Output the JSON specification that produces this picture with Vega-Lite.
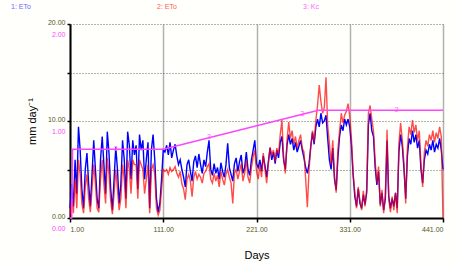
{
"$schema": "https://vega.github.io/schema/vega-lite/v6.json",
"width": 373, "height": 194,
"autosize": {"type": "none"},
"padding": {"left": 70, "top": 24, "right": 14, "bottom": 45},
"background": "#fffffb",
"config": {"font": "Liberation Sans", "view": {"stroke": null}},
"datasets": {
"eto": [
{"d":1,"b":1.0,"r":0.3},{"d":3,"b":3.5,"r":2.0},{"d":5,"b":1.2,"r":0.5},{"d":7,"b":6.0,"r":4.0},{"d":9,"b":2.5,"r":1.0},{"d":11,"b":9.4,"r":6.0},{"d":13,"b":7.0,"r":4.5},{"d":15,"b":3.0,"r":1.5},{"d":17,"b":1.0,"r":0.5},{"d":19,"b":5.0,"r":3.2},{"d":21,"b":6.7,"r":4.5},{"d":23,"b":3.5,"r":2.0},{"d":25,"b":1.2,"r":0.6},{"d":27,"b":4.5,"r":3.0},{"d":29,"b":8.0,"r":5.5},{"d":31,"b":5.0,"r":3.5},{"d":33,"b":2.0,"r":1.0},{"d":35,"b":1.0,"r":0.6},{"d":37,"b":6.0,"r":4.0},{"d":39,"b":8.4,"r":6.0},{"d":41,"b":5.5,"r":3.5},{"d":43,"b":2.5,"r":1.5},{"d":45,"b":8.9,"r":6.2},{"d":47,"b":6.7,"r":4.5},{"d":49,"b":3.0,"r":1.8},{"d":51,"b":0.8,"r":0.4},{"d":53,"b":4.0,"r":2.5},{"d":55,"b":7.3,"r":5.0},{"d":57,"b":5.0,"r":3.0},{"d":59,"b":1.5,"r":0.8},{"d":61,"b":3.5,"r":2.0},{"d":63,"b":8.0,"r":5.5},{"d":65,"b":6.0,"r":4.0},{"d":67,"b":2.0,"r":1.0},{"d":69,"b":8.9,"r":6.0},{"d":71,"b":7.5,"r":5.0},{"d":73,"b":4.0,"r":2.5},{"d":75,"b":8.0,"r":6.0},{"d":77,"b":6.5,"r":5.5},{"d":79,"b":7.5,"r":5.5},{"d":81,"b":3.0,"r":2.0},{"d":83,"b":8.6,"r":6.0},{"d":85,"b":7.0,"r":5.5},{"d":87,"b":8.0,"r":5.0},{"d":89,"b":4.0,"r":2.5},{"d":91,"b":6.0,"r":4.0},{"d":93,"b":7.8,"r":5.5},{"d":95,"b":1.0,"r":0.5},{"d":97,"b":7.0,"r":5.0},{"d":99,"b":8.6,"r":5.5},{"d":101,"b":6.0,"r":4.5},{"d":103,"b":2.0,"r":1.0},{"d":105,"b":0.6,"r":0.3},{"d":107,"b":1.5,"r":0.8},{"d":109,"b":4.0,"r":3.0},{"d":111,"b":7.0,"r":5.0},
{"d":113,"b":6.8,"r":4.8},{"d":115,"b":7.5,"r":5.0},{"d":117,"b":6.5,"r":4.5},{"d":119,"b":7.8,"r":5.2},{"d":121,"b":6.2,"r":4.8},{"d":123,"b":7.0,"r":5.0},{"d":125,"b":7.6,"r":5.3},{"d":127,"b":6.4,"r":4.6},{"d":129,"b":5.5,"r":4.2},{"d":131,"b":6.0,"r":4.8},{"d":133,"b":5.0,"r":3.5},{"d":135,"b":4.2,"r":3.0},{"d":137,"b":3.2,"r":1.9},{"d":139,"b":5.5,"r":4.0},{"d":141,"b":6.0,"r":4.5},{"d":143,"b":4.8,"r":3.8},{"d":145,"b":3.8,"r":2.2},{"d":147,"b":5.8,"r":4.2},{"d":149,"b":6.4,"r":4.8},{"d":151,"b":5.2,"r":4.0},{"d":153,"b":6.6,"r":4.5},{"d":155,"b":5.5,"r":4.2},{"d":157,"b":4.6,"r":3.6},{"d":159,"b":6.0,"r":4.6},{"d":161,"b":5.3,"r":4.8},{"d":163,"b":6.8,"r":5.3},{"d":165,"b":8.0,"r":5.6},{"d":167,"b":5.0,"r":4.0},{"d":169,"b":4.4,"r":3.6},{"d":171,"b":5.6,"r":4.6},{"d":173,"b":4.6,"r":3.8},{"d":175,"b":5.2,"r":4.4},{"d":177,"b":4.0,"r":3.2},{"d":179,"b":5.7,"r":4.8},{"d":181,"b":4.8,"r":4.0},{"d":183,"b":4.2,"r":3.4},{"d":185,"b":5.5,"r":4.5},{"d":187,"b":7.7,"r":5.0},{"d":189,"b":5.2,"r":4.2},{"d":191,"b":4.5,"r":3.6},{"d":193,"b":3.8,"r":1.5},{"d":195,"b":5.6,"r":4.6},{"d":197,"b":6.2,"r":5.0},{"d":199,"b":4.8,"r":4.0},{"d":201,"b":5.8,"r":4.8},{"d":203,"b":6.5,"r":5.6},{"d":205,"b":4.6,"r":3.8},{"d":207,"b":5.2,"r":4.6},{"d":209,"b":6.8,"r":6.0},{"d":211,"b":5.0,"r":4.2},{"d":213,"b":4.4,"r":3.6},{"d":215,"b":6.0,"r":5.2},{"d":217,"b":7.0,"r":6.3},{"d":219,"b":8.0,"r":7.0},{"d":221,"b":5.6,"r":4.8},
{"d":223,"b":5.2,"r":4.0},{"d":225,"b":6.0,"r":5.5},{"d":227,"b":4.8,"r":4.2},{"d":229,"b":6.4,"r":6.7},{"d":231,"b":5.4,"r":5.0},{"d":233,"b":4.2,"r":3.6},{"d":235,"b":5.8,"r":5.6},{"d":237,"b":7.2,"r":7.3},{"d":239,"b":6.0,"r":6.5},{"d":241,"b":6.8,"r":7.0},{"d":243,"b":5.6,"r":5.8},{"d":245,"b":7.0,"r":7.2},{"d":247,"b":6.2,"r":6.6},{"d":249,"b":7.8,"r":8.6},{"d":251,"b":8.4,"r":10.1},{"d":253,"b":6.0,"r":6.2},{"d":255,"b":5.0,"r":4.6},{"d":257,"b":7.5,"r":8.0},{"d":259,"b":8.6,"r":9.9},{"d":261,"b":7.6,"r":8.2},{"d":263,"b":8.2,"r":9.0},{"d":265,"b":7.0,"r":7.6},{"d":267,"b":7.8,"r":8.4},{"d":269,"b":6.8,"r":7.2},{"d":271,"b":7.4,"r":8.0},{"d":273,"b":8.0,"r":8.6},{"d":275,"b":7.0,"r":7.2},{"d":277,"b":6.2,"r":6.8},{"d":279,"b":5.2,"r":4.0},{"d":281,"b":4.6,"r":1.1},{"d":283,"b":5.6,"r":5.0},{"d":285,"b":7.4,"r":7.3},{"d":287,"b":8.8,"r":9.0},{"d":289,"b":7.6,"r":7.8},{"d":291,"b":9.4,"r":10.1},{"d":293,"b":10.2,"r":11.6},{"d":295,"b":9.4,"r":13.7},{"d":297,"b":10.8,"r":12.0},{"d":299,"b":9.8,"r":10.8},{"d":301,"b":10.0,"r":11.4},{"d":303,"b":10.6,"r":14.5},{"d":305,"b":8.2,"r":9.5},{"d":307,"b":6.0,"r":7.7},{"d":309,"b":5.0,"r":5.5},{"d":311,"b":7.2,"r":8.0},{"d":313,"b":4.0,"r":4.4},{"d":315,"b":2.9,"r":2.6},{"d":317,"b":6.2,"r":7.0},{"d":319,"b":8.4,"r":9.0},{"d":321,"b":9.6,"r":10.8},{"d":323,"b":9.0,"r":9.8},{"d":325,"b":10.2,"r":10.6},{"d":327,"b":9.6,"r":11.0},{"d":329,"b":10.2,"r":11.8},{"d":331,"b":9.4,"r":10.5},
{"d":333,"b":7.5,"r":8.2},{"d":335,"b":4.4,"r":4.6},{"d":337,"b":2.2,"r":2.6},{"d":339,"b":1.2,"r":1.0},{"d":341,"b":3.0,"r":3.2},{"d":343,"b":1.5,"r":1.8},{"d":345,"b":1.0,"r":0.8},{"d":347,"b":2.4,"r":2.8},{"d":349,"b":1.4,"r":1.2},{"d":351,"b":2.6,"r":3.0},{"d":353,"b":9.6,"r":10.8},{"d":355,"b":10.8,"r":11.6},{"d":357,"b":9.0,"r":10.2},{"d":359,"b":8.4,"r":9.0},{"d":361,"b":5.2,"r":5.8},{"d":363,"b":3.4,"r":3.6},{"d":365,"b":4.8,"r":5.3},{"d":367,"b":1.4,"r":1.2},{"d":369,"b":2.6,"r":2.9},{"d":371,"b":0.8,"r":0.5},{"d":373,"b":2.0,"r":2.4},{"d":375,"b":8.0,"r":9.1},{"d":377,"b":2.2,"r":2.0},{"d":379,"b":1.0,"r":0.6},{"d":381,"b":2.0,"r":2.2},{"d":383,"b":1.2,"r":0.8},{"d":385,"b":2.6,"r":2.6},{"d":387,"b":1.0,"r":0.5},{"d":389,"b":6.8,"r":7.7},{"d":391,"b":8.6,"r":9.8},{"d":393,"b":7.4,"r":8.0},{"d":395,"b":5.0,"r":5.6},{"d":397,"b":2.0,"r":1.5},{"d":399,"b":6.4,"r":7.2},{"d":401,"b":8.2,"r":9.4},{"d":403,"b":7.6,"r":8.6},{"d":405,"b":9.0,"r":10.1},{"d":407,"b":7.8,"r":8.8},{"d":409,"b":8.6,"r":9.6},{"d":411,"b":7.2,"r":8.0},{"d":413,"b":8.0,"r":9.0},{"d":415,"b":5.0,"r":5.6},{"d":417,"b":3.6,"r":3.2},{"d":419,"b":6.0,"r":6.8},{"d":421,"b":7.0,"r":8.0},{"d":423,"b":6.6,"r":7.4},{"d":425,"b":7.6,"r":8.6},{"d":427,"b":7.0,"r":8.0},{"d":429,"b":8.0,"r":9.0},{"d":431,"b":6.8,"r":7.8},{"d":433,"b":7.6,"r":8.8},{"d":435,"b":7.2,"r":8.2},{"d":437,"b":8.2,"r":9.4},{"d":439,"b":7.0,"r":8.4},{"d":441,"b":5.0,"r":0.0}
],
"kc": [{"d":1,"k":0},{"d":3,"k":0},{"d":4,"k":0.71},{"d":111,"k":0.71},{"d":294,"k":1.11},{"d":441,"k":1.11}],
"kcl": [{"d":55,"k":0.71},{"d":165,"k":0.83},{"d":275,"k":1.07},{"d":386,"k":1.11}]
},
"encoding": {
  "x": {"field": "d", "type": "quantitative",
    "scale": {"domain": [1, 441], "nice": false, "zero": false},
    "axis": {"values": [1, 111, 221, 331, 441], "format": ".2f", "title": "Days",
      "grid": true, "gridColor": "#b0b0b0", "gridWidth": 1.5,
      "domainColor": "#000000", "domainWidth": 2, "tickColor": "#000000", "tickSize": 4, "tickWidth": 1.5,
      "labelFontSize": 7, "labelColor": "#55552a", "labelFlush": true, "labelPadding": 3, "labelOverlap": false,
      "titleFontSize": 11, "titleFontWeight": "normal", "titleColor": "#000000", "titlePadding": 17}}
},
"layer": [
  {
    "data": {"name": "eto"},
    "transform": [{"fold": ["b", "r"], "as": ["s", "v"]}],
    "mark": {"type": "line", "strokeWidth": 1.4, "interpolate": "linear"},
    "encoding": {
      "y": {"field": "v", "type": "quantitative", "scale": {"domain": [0, 20], "nice": false},
        "axis": {"title": "mm day⁻¹", "values": [0, 5, 10, 15, 20],
          "labelExpr": "datum.value % 10 == 0 ? format(datum.value, '.2f') : ''",
          "grid": true, "gridDash": [1, 2], "gridColor": "#666666", "gridWidth": 1,
          "domainColor": "#000000", "domainWidth": 2, "tickColor": "#000000", "tickSize": 3, "tickWidth": 1.5,
          "labelFontSize": 7, "labelColor": "#55552a", "labelPadding": 2, "labelOffset": -2, "labelOverlap": false, "labelBound": false,
          "titleFontSize": 11, "titleFontWeight": "normal", "titleColor": "#000000", "titlePadding": 10}},
      "color": {"field": "s", "type": "nominal",
        "scale": {"domain": ["b", "r", "k"], "range": ["#0000ff", "#ff0000", "#ff33ff"]},
        "legend": {"orient": "none", "legendX": -66, "legendY": -21, "direction": "horizontal", "columns": 3,
          "title": null, "symbolSize": 0, "symbolStrokeWidth": 0, "symbolOpacity": 0, "labelOffset": 0,
          "columnPadding": 119, "gridAlign": "all", "labelFontSize": 7,
          "labelExpr": "datum.label == 'b' ? '1: ETo' : datum.label == 'r' ? '2: ETo' : '3: Kc'",
          "encode": {"labels": {"update": {"fill": {"signal": "datum.value == 'b' ? '#6a6aff' : datum.value == 'r' ? '#ff5a5a' : '#ff66ff'"}}}}}},
      "opacity": {"field": "s", "type": "nominal", "scale": {"domain": ["b", "r"], "range": [1, 0.7]}, "legend": null}
    }
  },
  {
    "data": {"name": "kc"},
    "layer": [
      {"mark": {"type": "line", "color": "#ff44ff", "strokeWidth": 1.5}, "encoding": {}},
      {"data": {"name": "kcl"}, "mark": {"type": "text", "text": "3", "color": "#ff66ff", "fontSize": 7}, "encoding": {}}
    ],
    "encoding": {
      "y": {"field": "k", "type": "quantitative", "scale": {"domain": [0, 2], "nice": false},
        "axis": {"orient": "left", "title": null, "values": [0, 1, 2], "format": ".2f",
          "grid": false, "domain": false, "ticks": false, "labelColor": "#ff44ff", "labelFontSize": 7,
          "labelPadding": 5, "labelOffset": 10, "labelOverlap": false, "labelBound": false}}
    }
  }
],
"resolve": {"scale": {"y": "independent"}, "axis": {"y": "independent"}}
}
